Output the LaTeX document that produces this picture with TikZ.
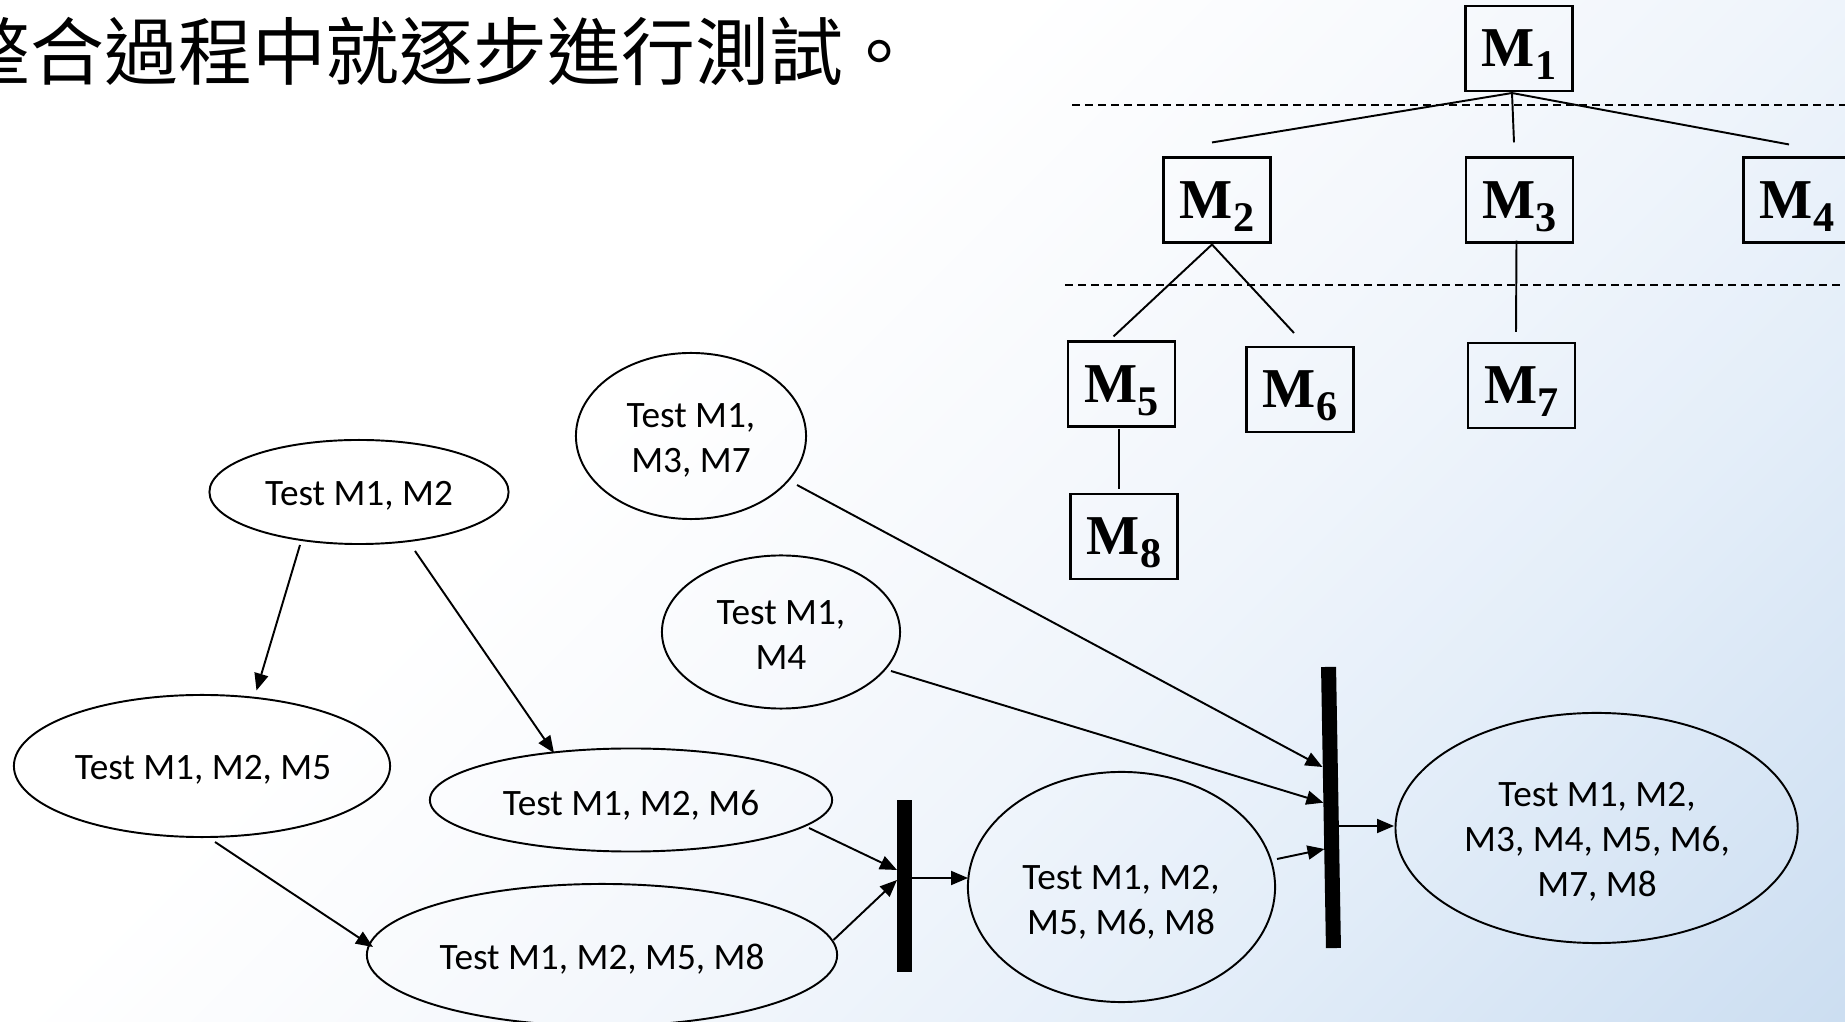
\documentclass[tikz,border=0pt]{standalone}
\usepackage{fontspec}
\setmainfont{Carlito}
\newfontfamily\cjk{Noto Sans CJK TC}
\newfontfamily\tnr{Liberation Serif}
\usetikzlibrary{arrows.meta,calc,shapes.geometric}
\definecolor{bgA}{RGB}{204,222,241}
\definecolor{bgB}{RGB}{228,238,249}
\definecolor{bgC}{RGB}{240,245,251}
\definecolor{bgD}{RGB}{248,250,253}
\pgfdeclareverticalshading{bgshade}{100bp}{color(0bp)=(bgA); color(14.6bp)=(bgA); color(31.6bp)=(bgB); color(41.5bp)=(bgC); color(51bp)=(bgD); color(60bp)=(white); color(100bp)=(white)}
\newcommand{\Mlab}[1]{{\tnr\bfseries\fontsize{16pt}{18pt}\selectfont M\raisebox{-3.6pt}{\fontsize{12pt}{14pt}\selectfont #1}}}
\tikzset{
  ell/.style={draw, ellipse, line width=0.55pt, inner sep=0pt, outer sep=0pt},
  txt/.style={align=center, font=\fontsize{10.6pt}{12.8pt}\selectfont, inner sep=0pt},
  mbox/.style={draw, line width=0.7pt, minimum width=1.07cm, minimum height=0.85cm, inner sep=0pt, outer sep=0pt, text depth=0pt},
  barnode/.style={fill=black, minimum width=0.15cm, inner sep=0pt, outer sep=0pt},
  arr/.style={line width=0.55pt, -{Triangle[length=0.17cm,width=0.14cm]}},
  tline/.style={line width=0.55pt},
  dline/.style={line width=0.65pt, dash pattern=on 0.075cm off 0.055cm},
}
\begin{document}
\begin{tikzpicture}[x=0.01cm, y=-0.01cm]
\useasboundingbox (0,0) rectangle (1845,1022);
\clip (0,0) rectangle (1845,1022);
\shade[shading=bgshade, shading angle=45] (0,0) rectangle (1845,1022);

% title text (cropped at left, as in the reference)
\node[anchor=base west, inner sep=0pt, font=\cjk\fontsize{21pt}{21pt}\selectfont] (title) at (-44,80) {整合過程中就逐步進行測試。};

% module tree
\node[mbox] (M1) at (1519,48.5) {\Mlab{1}};
\node[mbox] (M2) at (1217,200) {\Mlab{2}};
\node[mbox] (M3) at (1519.5,200) {\Mlab{3}};
\node[mbox] (M4) at (1797,200) {\Mlab{4}};
\node[mbox] (M5) at (1121.5,384) {\Mlab{5}};
\node[mbox] (M6) at (1300,389.5) {\Mlab{6}};
\node[mbox] (M7) at (1521.5,385.5) {\Mlab{7}};
\node[mbox] (M8) at (1124,536.5) {\Mlab{8}};

\draw[dline] (1072,105) -- (1845,105);
\draw[dline] (1065,285) -- (1845,285);

\draw[tline] ($(M1.south)+(-7,2)$) -- ($(M2.north)+(-5,-15)$);
\draw[tline] ($(M1.south)+(-7,2)$) -- ($(M3.north)+(-5.5,-15)$);
\draw[tline] ($(M1.south)+(-7,2)$) -- ($(M4.north)+(-8,-13)$);
\draw[tline] ($(M2.south)+(-5,2)$) -- ($(M5.north)+(-8,-5)$);
\draw[tline] ($(M2.south)+(-5,2)$) -- ($(M6.north)+(-6,-14)$);
\draw[tline] ($(M3.south)+(-3,-2)$) -- ($(M7.north)+(-5.5,-11)$);
\draw[tline] ($(M5.south)+(-2.5,2)$) -- ($(M8.north)+(-5,-5)$);

% test ellipses
\node[ell, minimum width=2.99cm, minimum height=1.04cm] (e12) at (359,492) {};
\node[ell, minimum width=2.30cm, minimum height=1.66cm] (e137) at (691,436) {};
\node[ell, minimum width=2.38cm, minimum height=1.53cm] (e14) at (781,632) {};
\node[ell, minimum width=3.76cm, minimum height=1.42cm] (e125) at (202,766) {};
\node[ell, minimum width=4.02cm, minimum height=1.03cm] (e126) at (631,800) {};
\node[ell, minimum width=4.70cm, minimum height=1.42cm] (e1258) at (602,955) {};
\node[ell, minimum width=3.07cm, minimum height=2.30cm] (e12568) at (1121.5,887) {};
\node[ell, minimum width=4.02cm, minimum height=2.30cm] (eall) at (1596.6,828) {};

\node[txt] (t12) at (359,495.5) {Test M1, M2};
\node[txt] (t137) at (691,440) {Test M1,\\M3, M7};
\node[txt] (t14) at (781,635) {Test M1,\\M4};
\node[txt] (t125) at (203,770) {Test M1, M2, M5};
\node[txt] (t126) at (631,805) {Test M1, M2, M6};
\node[txt] (t1258) at (602,959) {Test M1, M2, M5, M8};
\node[txt] (t12568) at (1121,902) {Test M1, M2,\\ M5, M6, M8};
\node[txt] (tall) at (1597,842) {Test M1, M2,\\M3, M4, M5, M6,\\M7, M8};

% join bars
\node[barnode, minimum height=1.72cm] (bar1) at (904.5,886) {};
\node[barnode, minimum height=2.81cm, rotate=1] (bar2) at (1331,807.5) {};

% arrows
\draw[arr] ($(e12)+(-59,53)$) -- ($(e125)+(54.5,-75.5)$);
\draw[arr] ($(e12)+(56,59)$) -- ($(e126)+(-77,-47)$);
\draw[arr] ($(e125)+(13,76)$) -- ($(e1258)+(-229,-8)$);
\draw[arr] ($(e126)+(178,28)$) -- ($(bar1.west)+(0,-16)$);
\draw[arr] ($(e1258)+(231.5,-15)$) -- ($(bar1.west)+(0,-6)$);
\draw[arr] ($(bar1.east)+(0,-8)$) -- ($(e12568)+(-153.5,-9)$);
\draw[arr] ($(e12568)+(155.5,-28)$) -- ($(bar2)+(-6.5,41.5)$);
\draw[arr] ($(e137)+(106,49)$) -- ($(bar2)+(-8.5,-40.5)$);
\draw[arr] ($(e14)+(110,39)$) -- ($(bar2)+(-7.6,-4.8)$);
\draw[arr] ($(bar2)+(7.5,18.5)$) -- ($(eall)+(-202.6,-2)$);
\end{tikzpicture}
\end{document}
